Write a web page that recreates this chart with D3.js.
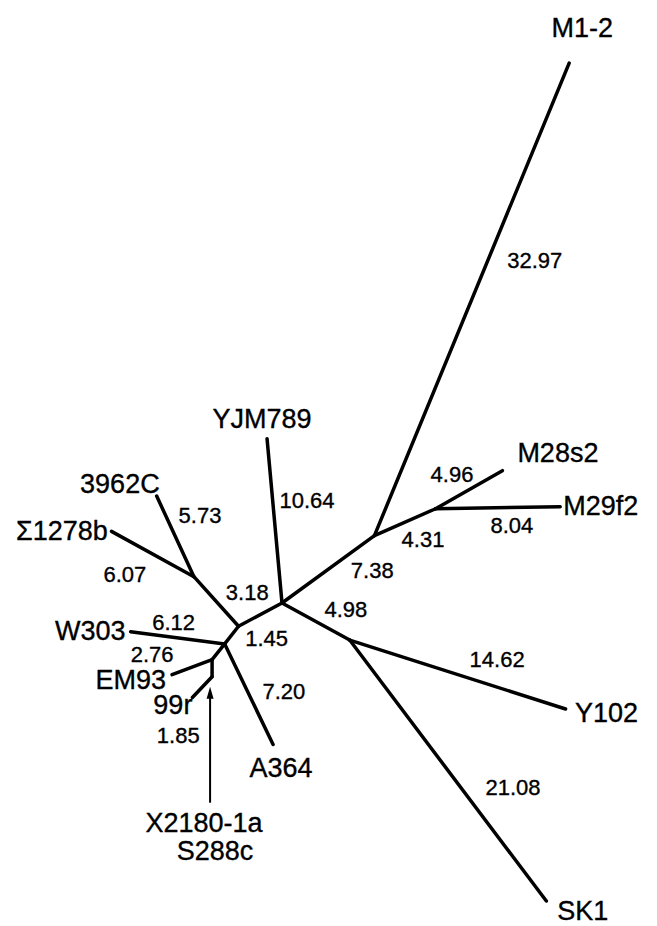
<!DOCTYPE html>
<html>
<head>
<meta charset="utf-8">
<script src="https://cdn.jsdelivr.net/npm/d3@7"></script>
<style>
  html, body { margin: 0; padding: 0; background: #fff; }
  svg { display: block; }
  text { font-family: "Liberation Sans", Arial, Helvetica, sans-serif; fill: #000; stroke: #000; stroke-width: 0.35px; }
</style>
</head>
<body>
<svg id="tree" width="657" height="926"></svg>
<script>
// Unrooted distance tree of yeast strains. Each node lists its parent and the
// length of the branch leading to it; internal nodes carry an "n" prefix.
const nodeNames = ["n1", "YJM789", "nM", "M1-2", "nM2", "M28s2", "M29f2",
  "nS", "Y102", "SK1", "nA", "nE", "3962C", "Σ1278b", "nB", "W303", "A364",
  "nC", "EM93", "nD", "99r"];
const parentNames = [null, "n1", "n1", "nM", "nM", "nM2", "nM2",
  "n1", "nS", "nS", "n1", "nA", "nE", "nE", "nA", "nB", "nB",
  "nB", "nC", "nC", "nD"];
const branchLengths = [0, 10.64, 7.38, 32.97, 4.31, 4.96, 8.04,
  4.98, 14.62, 21.08, 3.18, 4.3, 5.73, 6.07, 1.45, 6.12, 7.20,
  1.3, 2.76, 1.1, 1.85];
// Whether the branch length is printed next to the branch.
const branchPrinted = [false, true, true, true, true, true, true,
  true, true, true, true, false, true, true, true, true, true,
  false, true, false, true];
// Strains that sit on the tiny branch at nD, marked with a pointer arrow.
const pointerTaxa = ["X2180-1a", "S288c"];
const pointerNode = "nD";

// ---- layout: branch directions (degrees, screen coords) and label placement ----
const layout = {
  "YJM789": { angle: -95.2, edge: [32.5, -13], tip: [-5, -11, "middle"] },
  "nM":     { angle: -36.1, edge: [44, 9] },
  "M1-2":   { angle: -67.6, edge: [63, -31], tip: [13, -26, "middle"] },
  "nM2":    { angle: -23.7, edge: [18, 25] },
  "M28s2":  { angle: -29.7, edge: [-17, -8], tip: [15, -9, "start"] },
  "M29f2":  { angle: -0.9,  edge: [14, 25], tip: [3, 8, "start"] },
  "nS":     { angle: 28.7,  edge: [30, -4.5] },
  "Y102":   { angle: 17.7,  edge: [39.5, -7.5], tip: [9.4, 13, "start"] },
  "SK1":    { angle: 53,    edge: [65, 24.5], tip: [11, 19, "start"] },
  "nA":     { angle: 151.9, edge: [-13, -14.6] },
  "nE":     { angle: -132 },
  "3962C":  { angle: -114.8, edge: [24.7, -13.3], tip: [3, -3, "end"] },
  "Σ1278b": { angle: -151.2, edge: [-27.8, 28], tip: [-3.6, 8.6, "end"] },
  "nB":     { angle: 128,   edge: [35, 10.6] },
  "W303":   { angle: -172.6, edge: [-4, -8], tip: [-5, 8, "end"] },
  "A364":   { angle: 64.3,  edge: [35, 5], tip: [8, 33, "middle"] },
  "nC":     { angle: 128.7 },
  "EM93":   { angle: 159.4, edge: [-40, -5.5], tip: [-6, 14, "end"] },
  "nD":     { angle: 90 },
  "99r":    { angle: 133.4, edge: [-24, 55.5], tip: [0, 16, "end"] }
};
const rootPos = [282, 603];
const pointer = { tipGap: 10, tail: 126, labelOffsets: [[-8, 155], [3, 183]] };

const svg = d3.select("#tree");

// Branch length units -> pixels
const len = d3.scaleLinear().domain([0, 10]).range([0, 155]);

const rows = nodeNames.map((name, i) => ({
  name, parent: parentNames[i], length: branchLengths[i], printed: branchPrinted[i]
}));
const root = d3.stratify().id(d => d.name).parentId(d => d.parent)(rows);

// Place every node by walking from the centre outward.
root.eachBefore(node => {
  if (!node.parent) { node.x = rootPos[0]; node.y = rootPos[1]; return; }
  const a = layout[node.id].angle * Math.PI / 180;
  const r = len(node.data.length);
  node.x = node.parent.x + r * Math.cos(a);
  node.y = node.parent.y + r * Math.sin(a);
});

const links = root.links();

svg.append("g")
  .attr("stroke", "#000")
  .attr("stroke-width", 3.5)
  .attr("stroke-linecap", "round")
  .selectAll("line")
  .data(links)
  .join("line")
  .attr("x1", d => d.source.x)
  .attr("y1", d => d.source.y)
  .attr("x2", d => d.target.x)
  .attr("y2", d => d.target.y);

// Branch length labels
svg.append("g")
  .attr("font-size", 22)
  .attr("text-anchor", "middle")
  .selectAll("text")
  .data(links.filter(d => d.target.data.printed))
  .join("text")
  .attr("x", d => (d.source.x + d.target.x) / 2 + layout[d.target.id].edge[0])
  .attr("y", d => (d.source.y + d.target.y) / 2 + layout[d.target.id].edge[1])
  .text(d => d.target.data.length.toFixed(2));

// Strain names at the tips
svg.append("g")
  .attr("font-size", 27)
  .selectAll("text")
  .data(root.leaves())
  .join("text")
  .attr("x", d => d.x + layout[d.id].tip[0])
  .attr("y", d => d.y + layout[d.id].tip[1])
  .attr("text-anchor", d => layout[d.id].tip[2])
  .text(d => d.id);

// Pointer arrow for the strains on the very short branch
const pn = root.find(d => d.id === pointerNode);
const px = pn.x - 2;
const tipY = pn.y + pointer.tipGap;
svg.append("line")
  .attr("x1", px).attr("y1", pn.y + pointer.tail)
  .attr("x2", px).attr("y2", tipY + 8)
  .attr("stroke", "#000").attr("stroke-width", 2);
svg.append("path")
  .attr("d", `M${px},${tipY} L${px - 3.5},${tipY + 12} L${px + 3.5},${tipY + 12} Z`)
  .attr("fill", "#000");

svg.append("g")
  .attr("font-size", 27)
  .attr("text-anchor", "middle")
  .selectAll("text")
  .data(pointerTaxa)
  .join("text")
  .attr("x", (d, i) => pn.x + pointer.labelOffsets[i][0])
  .attr("y", (d, i) => pn.y + pointer.labelOffsets[i][1])
  .text(d => d);
</script>
</body>
</html>
